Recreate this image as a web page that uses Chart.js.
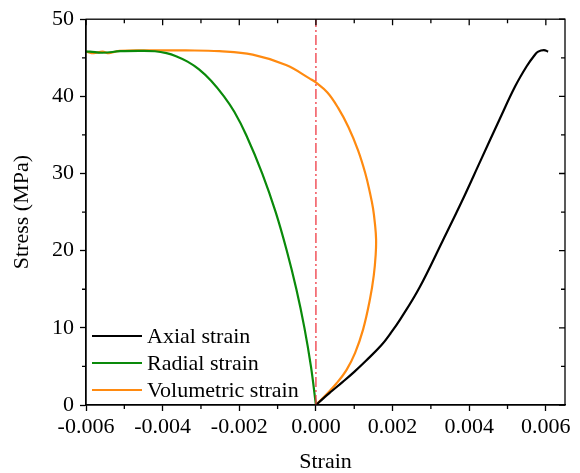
<!DOCTYPE html>
<html><head><meta charset="utf-8">
<script src="https://cdn.jsdelivr.net/npm/chart.js@4/dist/chart.umd.min.js"></script>
<style>html,body{margin:0;padding:0;background:#fff}#wrap{width:580px;height:473px}</style>
</head><body><div id="wrap"><canvas id="c" width="580" height="473"></canvas></div>
<script>
// ---- data ----
const axialX = [0, 0.0002, 0.0004, 0.0007, 0.0010, 0.0013, 0.0017, 0.00195, 0.0022, 0.0027, 0.0033, 0.0038, 0.0043, 0.0048, 0.0052, 0.0055, 0.0057, 0.0058, 0.00595, 0.00606];
const axialY = [0, 0.9, 1.75, 3.0, 4.3, 5.7, 7.7, 9.3, 11.1, 15.2, 21.2, 26.3, 31.7, 37.1, 41.3, 43.9, 45.3, 45.8, 46.0, 45.8];
const radialX = [0, -0.00013, -0.0003, -0.00051, -0.00076, -0.00105, -0.0014, -0.00182, -0.00213, -0.0024, -0.00273, -0.00305, -0.00335, -0.00365, -0.0039, -0.0042, -0.0046, -0.0051, -0.00557, -0.0059, -0.006];
const radialY = [0, 5, 10, 15, 20, 25, 30, 35, 38, 40, 42, 43.5, 44.5, 45.2, 45.6, 45.85, 45.9, 45.85, 45.65, 45.8, 45.8];
const volX = [0, 0.00022, 0.00054, 0.0008, 0.00102, 0.00123, 0.00141, 0.00151, 0.00156, 0.00157, 0.00154, 0.00149, 0.00141, 0.00129, 0.0011, 0.00085, 0.00058, 0.0003, 0, -0.00016, -0.00078, -0.00165, -0.00252, -0.0034, -0.00427, -0.00513, -0.0054, -0.00557, -0.0058, -0.006];
const volY = [0, 1.1, 2.82, 4.56, 6.73, 9.77, 13.7, 16.8, 19.5, 21.5, 23.5, 25.5, 27.5, 30, 33, 36, 38.5, 40.5, 41.8, 42.3, 44.05, 45.4, 45.85, 45.95, 45.95, 45.9, 45.6, 45.8, 45.6, 45.8];
const refX = [0, 0];
const refY = [0, 50];
const seriesNames = ['Axial strain', 'Radial strain', 'Volumetric strain'];
const xTicks = [-0.006, -0.004, -0.002, 0, 0.002, 0.004, 0.006];
const yTicks = [0, 10, 20, 30, 40, 50];
const xMinor = [-0.005, -0.003, -0.001, 0.001, 0.003, 0.005];
const yMinor = [5, 15, 25, 35, 45];

const FONT = "'Liberation Serif', 'Times New Roman', serif";
const FS = 22;
const pts = (xs, ys) => xs.map((x, i) => ({x: x, y: ys[i]}));
const colors = ['#000000', '#0a8a0a', '#ff8a10'];

const framePlugin = {
  id: 'frame',
  afterDatasetsDraw(chart) {
    const {ctx, chartArea: a, scales: {x, y}} = chart;
    ctx.save();
    ctx.strokeStyle = '#000';
    ctx.lineWidth = 1.3;
    ctx.strokeRect(a.left, a.top, a.right - a.left, a.bottom - a.top);
    ctx.beginPath();
    xTicks.forEach(v => { const p = x.getPixelForValue(v); ctx.moveTo(p, a.top); ctx.lineTo(p, a.top + 6); });
    yTicks.forEach(v => { const p = y.getPixelForValue(v); ctx.moveTo(a.right, p); ctx.lineTo(a.right - 6, p); });
    xMinor.forEach(v => { const p = x.getPixelForValue(v);
      ctx.moveTo(p, a.bottom); ctx.lineTo(p, a.bottom + 4);
      ctx.moveTo(p, a.top); ctx.lineTo(p, a.top + 4); });
    yMinor.forEach(v => { const p = y.getPixelForValue(v);
      ctx.moveTo(a.left, p); ctx.lineTo(a.left - 4, p);
      ctx.moveTo(a.right, p); ctx.lineTo(a.right - 4, p); });
    ctx.stroke();
    ctx.font = FS + 'px ' + FONT;
    ctx.textBaseline = 'middle';
    ctx.fillStyle = '#000';
    seriesNames.forEach((n, i) => {
      const yy = a.bottom - 69 + i * 27;
      ctx.strokeStyle = colors[i];
      ctx.lineWidth = 2;
      ctx.beginPath(); ctx.moveTo(a.left + 6, yy); ctx.lineTo(a.left + 56, yy); ctx.stroke();
      ctx.fillText(n, a.left + 61, yy + 1);
    });
    ctx.restore();
  }
};

const line = (data, color, extra) => Object.assign({
  data: data, showLine: true, borderColor: color, backgroundColor: color,
  borderWidth: 2.2, pointRadius: 0, tension: 0.4, fill: false
}, extra || {});

new Chart(document.getElementById('c'), {
  type: 'scatter',
  data: {
    datasets: [
      line(pts(refX, refY), 'rgba(238,50,60,0.9)', {borderWidth: 1.4, borderDash: [10, 3, 2, 3], tension: 0, label: 'ref'}),
      line(pts(axialX, axialY), colors[0], {label: seriesNames[0]}),
      line(pts(radialX, radialY), colors[1], {label: seriesNames[1]}),
      line(pts(volX, volY), colors[2], {label: seriesNames[2]})
    ]
  },
  options: {
    responsive: false, animation: false,
    layout: {padding: {top: 19, right: 15, left: 0, bottom: 0}},
    plugins: {legend: {display: false}, tooltip: {enabled: false}},
    scales: {
      x: {
        type: 'linear', min: -0.006, max: 0.0065,
        afterBuildTicks: s => { s.ticks = xTicks.map(v => ({value: v})); },
        afterFit: s => { s.height = 68; },
        ticks: {callback: v => v.toFixed(3), color: '#000', font: {family: FONT, size: FS}, padding: 3, maxRotation: 0},
        grid: {drawOnChartArea: false, tickLength: 6, tickColor: '#000', tickWidth: 1.3},
        border: {color: '#000', width: 1.3},
        title: {display: true, text: 'Strain', color: '#000', font: {family: FONT, size: FS, lineHeight: 1}, padding: {top: 0, bottom: 0}}
      },
      y: {
        type: 'linear', min: 0, max: 50,
        afterBuildTicks: s => { s.ticks = yTicks.map(v => ({value: v})); },
        afterFit: s => { s.width = 86; },
        ticks: {color: '#000', font: {family: FONT, size: FS}, padding: 6},
        grid: {drawOnChartArea: false, tickLength: 6, tickColor: '#000', tickWidth: 1.3},
        border: {color: '#000', width: 1.3},
        title: {display: true, text: 'Stress (MPa)', color: '#000', font: {family: FONT, size: FS, lineHeight: 1}, padding: {top: 11, bottom: 0}}
      }
    }
  },
  plugins: [framePlugin]
});
</script></body></html>
